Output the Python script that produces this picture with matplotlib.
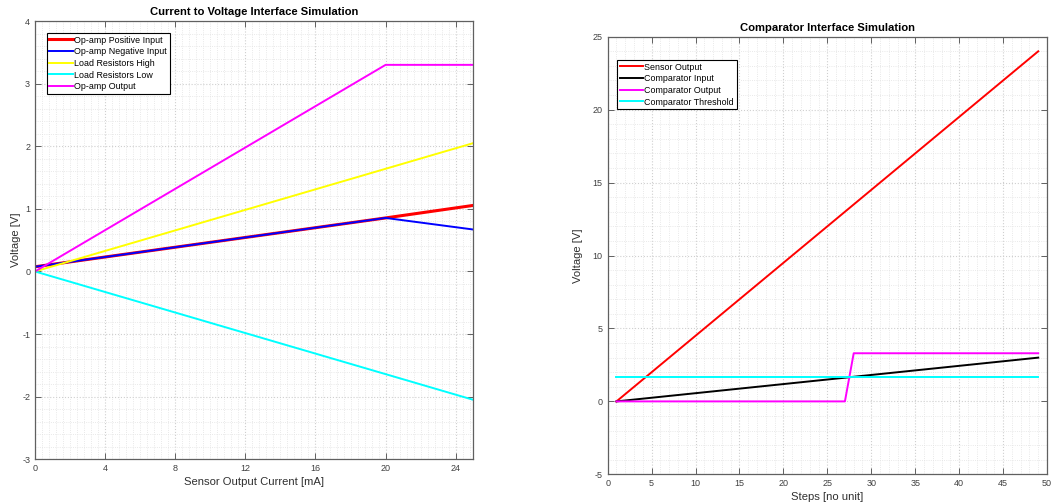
import numpy as np
import matplotlib
matplotlib.use("Agg")
import matplotlib.pyplot as plt
from matplotlib.ticker import MultipleLocator

plt.rcParams['font.family'] = ['Liberation Sans', 'DejaVu Sans']
plt.rcParams['axes.unicode_minus'] = False

# left chart: breakpoints of the piecewise linear curves
current_ma = [0, 20, 25]
opamp_pos = [0.075, 0.855, 1.055]
opamp_neg = [0.075, 0.855, 0.67]
load_high = [0.0, 1.64, 2.05]
load_low = [0.0, -1.64, -2.05]
opamp_out = [0.0, 3.3, 3.3]

# right chart
steps = [1, 49]
sensor_out = [0.0, 24.0]
comp_in = [0.0, 3.0]
comp_out_steps = [1, 27, 28, 49]
comp_out = [0.0, 0.0, 3.3, 3.3]
comp_thr = [1.65, 1.65]

tick_col = '#404040'
spine_col = '#606060'


def style_axes(ax, xmaj, xmin, ymaj, ymin):
    ax.xaxis.set_major_locator(MultipleLocator(xmaj))
    ax.xaxis.set_minor_locator(MultipleLocator(xmin))
    ax.yaxis.set_major_locator(MultipleLocator(ymaj))
    ax.yaxis.set_minor_locator(MultipleLocator(ymin))
    ax.grid(which='major', color='#cfcfcf', linestyle=':', linewidth=0.8)
    ax.grid(which='minor', color='#e2e2e2', linestyle=':', linewidth=0.6)
    ax.set_axisbelow(True)
    ax.tick_params(which='both', direction='in', top=True, right=True,
                   labelsize=6.5, labelcolor=tick_col, color=spine_col)
    ax.tick_params(which='minor', length=0)
    ax.tick_params(which='major', length=4, width=0.7)
    for s in ax.spines.values():
        s.set_color(spine_col)
        s.set_linewidth(0.9)


def add_legend(ax, anchor):
    leg = ax.legend(loc='upper left', bbox_to_anchor=anchor, fontsize=6.4,
                    fancybox=False, framealpha=1, edgecolor='black',
                    borderpad=0.3, labelspacing=0.3, handlelength=2.6,
                    handletextpad=0.2, borderaxespad=0)
    leg.get_frame().set_linewidth(0.8)
    return leg


fig = plt.figure(figsize=(10.51, 5.03), dpi=100)

ax1 = fig.add_axes([0.0333, 0.0869, 0.4170, 0.8713])
ax1.plot(current_ma, opamp_pos, color='red', lw=2.2, label='Op-amp Positive Input')
ax1.plot(current_ma, opamp_neg, color='blue', lw=1.4, label='Op-amp Negative Input')
ax1.plot(current_ma, load_high, color='yellow', lw=1.4, label='Load Resistors High')
ax1.plot(current_ma, load_low, color='cyan', lw=1.4, label='Load Resistors Low')
ax1.plot(current_ma, opamp_out, color='magenta', lw=1.4, label='Op-amp Output')
ax1.set_xlim(0, 25)
ax1.set_ylim(-3, 4)
style_axes(ax1, 4, 0.4, 1, 0.2)
ax1.set_title('Current to Voltage Interface Simulation', fontsize=8.1, fontweight='bold', pad=4)
ax1.set_xlabel('Sensor Output Current [mA]', fontsize=8.1, color='#303030', labelpad=3)
ax1.set_ylabel('Voltage [V]', fontsize=8.1, color='#303030', labelpad=1)
add_legend(ax1, (0.027, 0.973))

ax2 = fig.add_axes([0.5782, 0.0570, 0.4180, 0.8700])
ax2.plot(steps, sensor_out, color='red', lw=1.4, label='Sensor Output')
ax2.plot(steps, comp_in, color='black', lw=1.4, label='Comparator Input')
ax2.plot(comp_out_steps, comp_out, color='magenta', lw=1.4, label='Comparator Output')
ax2.plot(steps, comp_thr, color='cyan', lw=1.4, label='Comparator Threshold')
ax2.set_xlim(0, 50)
ax2.set_ylim(-5, 25)
style_axes(ax2, 5, 1, 5, 1)
ax2.set_title('Comparator Interface Simulation', fontsize=8.1, fontweight='bold', pad=4)
ax2.set_xlabel('Steps [no unit]', fontsize=8.1, color='#303030', labelpad=3)
ax2.set_ylabel('Voltage [V]', fontsize=8.1, color='#303030', labelpad=7)
add_legend(ax2, (0.021, 0.947))

fig.savefig('out.png', dpi=100)
